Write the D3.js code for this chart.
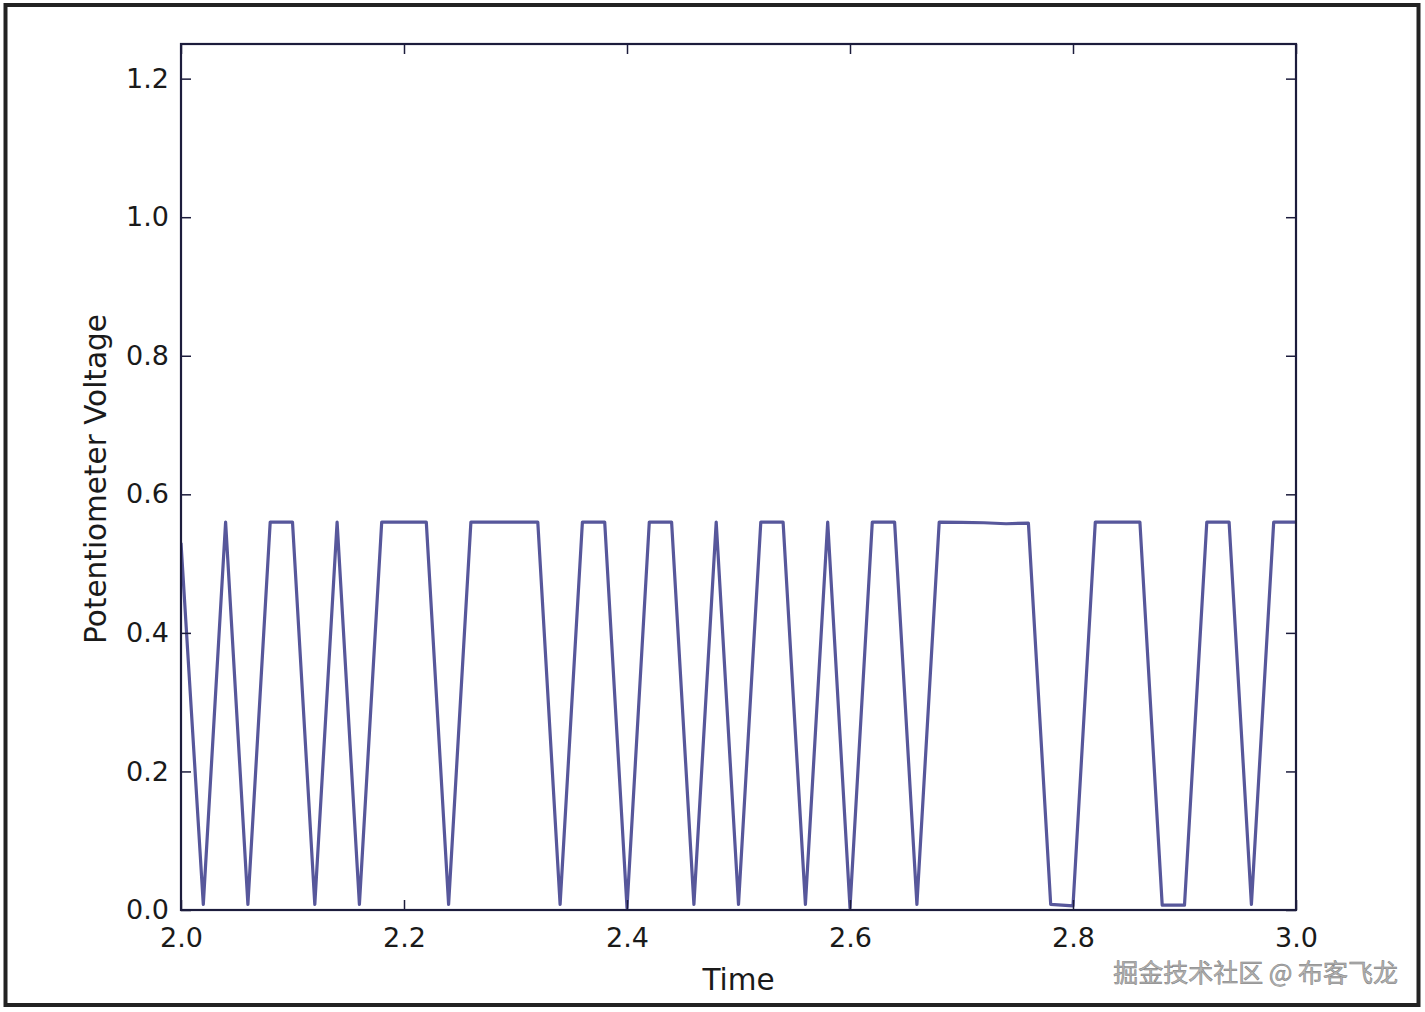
<!DOCTYPE html>
<html>
<head>
<meta charset="utf-8">
<script src="https://cdn.jsdelivr.net/npm/d3@7/dist/d3.min.js"></script>
<style>
  html, body { margin: 0; padding: 0; background: #fff; }
  svg { display: block; }
</style>
</head>
<body>
<svg id="chart" width="1425" height="1012"></svg>
<script>
// ---- data ----
const timeValues = [
  2.00, 2.02, 2.04, 2.06, 2.08, 2.10, 2.12, 2.14, 2.16, 2.18,
  2.20, 2.22, 2.24, 2.26, 2.28, 2.30, 2.32, 2.34, 2.36, 2.38,
  2.40, 2.42, 2.44, 2.46, 2.48, 2.50, 2.52, 2.54, 2.56, 2.58,
  2.60, 2.62, 2.64, 2.66, 2.68, 2.70, 2.72, 2.74, 2.76, 2.78,
  2.80, 2.82, 2.84, 2.86, 2.88, 2.90, 2.92, 2.94, 2.96, 2.98,
  3.00
];
const voltageValues = [
  0.53, 0.008, 0.56, 0.008, 0.56, 0.56, 0.008, 0.56, 0.008, 0.56,
  0.56, 0.56, 0.008, 0.56, 0.56, 0.56, 0.56, 0.008, 0.56, 0.56,
  0.003, 0.56, 0.56, 0.008, 0.56, 0.008, 0.56, 0.56, 0.008, 0.56,
  0.003, 0.56, 0.56, 0.008, 0.56, 0.5595, 0.559, 0.5575, 0.5585, 0.008,
  0.006, 0.56, 0.56, 0.56, 0.007, 0.007, 0.56, 0.56, 0.008, 0.56,
  0.56
];
const xTicks = [2.0, 2.2, 2.4, 2.6, 2.8, 3.0];
const yTicks = [0.0, 0.2, 0.4, 0.6, 0.8, 1.0, 1.2];
const xLabel = "Time";
const yLabel = "Potentiometer Voltage";
const watermark = "掘金技术社区 @ 布客飞龙";

// ---- layout ----
const W = 1425, H = 1012;
const plot = { left: 181, right: 1296, top: 44, bottom: 910 };
const lineColor = "#57579b";
const axisColor = "#1c1c3c";
const textColor = "#1a1a1a";
const fontFamily = "'DejaVu Sans', 'Liberation Sans', sans-serif";

const svg = d3.select("#chart");

// outer frame
svg.append("rect")
  .attr("x", 5.5).attr("y", 5).attr("width", 1413).attr("height", 1000)
  .attr("fill", "#fff").attr("stroke", "#222").attr("stroke-width", 4);

const x = d3.scaleLinear().domain([2.0, 3.0]).range([plot.left, plot.right]);
const y = d3.scaleLinear().domain([0.0, 1.25]).range([plot.bottom, plot.top]);

// data line (clipped to plot area)
svg.append("clipPath").attr("id", "clip")
  .append("rect")
  .attr("x", plot.left).attr("y", plot.top)
  .attr("width", plot.right - plot.left).attr("height", plot.bottom - plot.top);

const pts = timeValues.map((t, i) => [t, voltageValues[i]]);
const line = d3.line().x(d => x(d[0])).y(d => y(d[1]));
svg.append("path")
  .datum(pts)
  .attr("clip-path", "url(#clip)")
  .attr("fill", "none")
  .attr("stroke", lineColor)
  .attr("stroke-width", 3.2)
  .attr("stroke-linejoin", "round")
  .attr("d", line);

// axes with inward ticks
const tickLen = 10;
const fmt = d3.format(".1f");

const axisBottom = svg.append("g")
  .attr("transform", `translate(0,${plot.bottom})`)
  .call(d3.axisBottom(x).tickValues(xTicks).tickFormat(fmt).tickSizeInner(-tickLen).tickSizeOuter(0).tickPadding(18));
const axisTop = svg.append("g")
  .attr("transform", `translate(0,${plot.top})`)
  .call(d3.axisTop(x).tickValues(xTicks).tickFormat("").tickSizeInner(-tickLen).tickSizeOuter(0));
const axisLeft = svg.append("g")
  .attr("transform", `translate(${plot.left},0)`)
  .call(d3.axisLeft(y).tickValues(yTicks).tickFormat(fmt).tickSizeInner(-tickLen).tickSizeOuter(0).tickPadding(12));
const axisRight = svg.append("g")
  .attr("transform", `translate(${plot.right},0)`)
  .call(d3.axisRight(y).tickValues(yTicks).tickFormat("").tickSizeInner(-tickLen).tickSizeOuter(0));

[axisBottom, axisTop, axisLeft, axisRight].forEach(g => {
  g.select(".domain").remove();
  g.selectAll(".tick line").attr("stroke", axisColor).attr("stroke-width", 1.5);
  g.selectAll(".tick text")
    .attr("fill", textColor)
    .style("font-family", fontFamily)
    .style("font-size", "27px");
});

// frame of plot
svg.append("rect")
  .attr("x", plot.left).attr("y", plot.top)
  .attr("width", plot.right - plot.left).attr("height", plot.bottom - plot.top)
  .attr("fill", "none").attr("stroke", axisColor).attr("stroke-width", 2.2);

// axis labels
svg.append("text")
  .attr("x", (plot.left + plot.right) / 2).attr("y", 990)
  .attr("text-anchor", "middle")
  .attr("fill", textColor)
  .style("font-family", fontFamily).style("font-size", "29.5px")
  .text(xLabel);

svg.append("text")
  .attr("transform", `translate(106,${(plot.top + plot.bottom) / 2 + 2}) rotate(-90)`)
  .attr("text-anchor", "middle")
  .attr("fill", textColor)
  .style("font-family", fontFamily).style("font-size", "29.5px")
  .text(yLabel);

// watermark
svg.append("text")
  .attr("x", 1398).attr("y", 982)
  .attr("text-anchor", "end")
  .attr("fill", "#b2b2b2")
  .attr("stroke", "#7a7a7a")
  .attr("stroke-width", 0.5)
  .style("font-family", "'Noto Sans CJK SC', sans-serif").style("font-size", "25px")
  .text(watermark);
</script>
</body>
</html>
